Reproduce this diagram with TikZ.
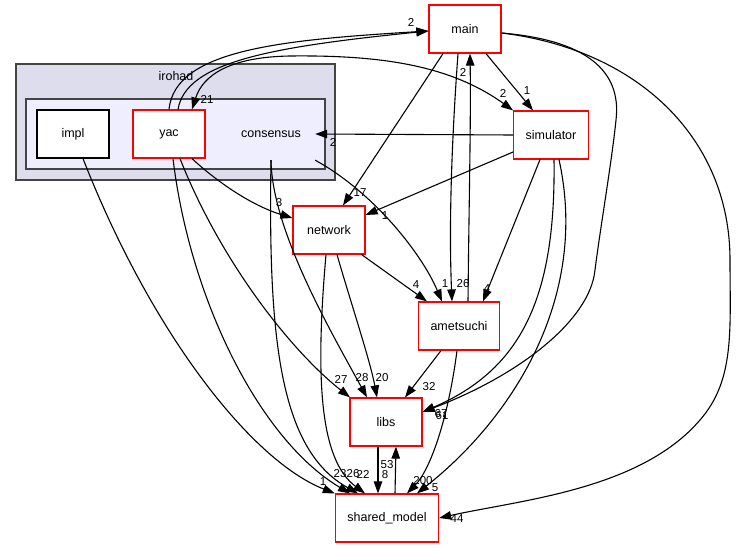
\documentclass[tikz,border=0pt]{standalone}
\usepackage{fontspec}
\setmainfont{Liberation Sans}
\usepackage{tikz}
\usetikzlibrary{arrows.meta}
\definecolor{rouge}{RGB}{255,0,0}
\definecolor{cadre}{RGB}{68,68,68}
\definecolor{fondext}{RGB}{221,221,238}
\definecolor{fondint}{RGB}{238,238,255}

\begin{document}
\begin{tikzpicture}[x=1pt,y=-1pt,
	dossier/.style={draw=rouge,fill=white,line width=1.2pt,minimum width=72pt,minimum height=48pt,inner xsep=12pt,font=\fontsize{12.5}{14}\selectfont},
	dep/.style={line width=1.1pt,-{Triangle[length=12pt,width=8.5pt]}},
	etiq/.style={inner sep=0pt,font=\fontsize{11.5}{13}\selectfont}]
	\useasboundingbox[fill=white] (0,0) rectangle (736,548);
	% irohad et consensus
	\draw[cadre,fill=fondext,line width=1.6pt] (16,64) rectangle (335,180);
	\node[font=\fontsize{12.5}{14}\selectfont] (irohad) at (176,76) {irohad};
	\draw[cadre,fill=fondint,line width=1.6pt] (26,99) rectangle (325,169);
	\node[minimum width=88pt,minimum height=52pt,font=\fontsize{12.5}{14}\selectfont] (consensus) at (271,134) {consensus};
	% dossiers
	\node[dossier,draw=black] (impl) at (73,134) {impl};
	\node[dossier] (yac) at (169,134) {yac};
	\node[dossier] (main) at (465,29) {main};
	\node[dossier] (simulator) at (551,135) {simulator};
	\node[dossier] (network) at (329,230) {network};
	\node[dossier] (ametsuchi) at (459,326) {ametsuchi};
	\node[dossier] (libs) at (386,422) {libs};
	\node[dossier] (shared) at (387,518) {shared\_model};
	% depuis yac
	\draw[dep] (yac.north) .. controls (175,50) and (280,40) .. ([yshift=-2pt]main.west);
	\draw[dep] ([xshift=9pt]yac.north) .. controls (186,62) and (270,47) .. ([yshift=-2pt]main.west);
	\draw[line width=1.1pt,{Triangle[length=12pt,width=8.5pt]}-{Triangle[length=12pt,width=8.5pt]}]
		([xshift=23pt]yac.north) .. controls (203,75) and (230,57) .. (290,56)
		.. controls (380,55) and (450,65) .. (simulator.north west);
	\draw[dep] ([xshift=23pt]yac.south) .. controls (215,180) and (250,205) .. ([yshift=12pt]network.west);
	\draw[dep] ([xshift=11pt]yac.south) .. controls (220,260) and (290,350) .. ([xshift=-36pt]libs.north);
	\draw[dep] ([xshift=4pt]yac.south) .. controls (190,300) and (260,440) .. ([xshift=-37pt]shared.north);
	\draw[dep] ([xshift=10pt]impl.south) .. controls (150,330) and (250,460) .. (shared.north west);
	% depuis consensus
	\draw[dep] (consensus.south east) .. controls (370,190) and (420,250) .. ([xshift=-17pt]ametsuchi.north);
	\draw[dep] (consensus.south) .. controls (272,230) and (330,330) .. ([xshift=-19pt]libs.north);
	\draw[dep] (consensus.south) .. controls (268,340) and (280,450) .. ([xshift=-29pt]shared.north);
	% depuis main
	\draw[dep] ([xshift=-22pt]main.south) -- ([xshift=14pt]network.north);
	\draw[dep] ([xshift=-7pt]main.south) .. controls (451,150) and (449,230) .. ([xshift=-7pt]ametsuchi.north);
	\draw[dep] ([xshift=21pt]main.south) -- ([xshift=-18pt]simulator.north);
	\draw[dep] ([yshift=-4pt]main.east) .. controls (585,40) and (622,70) .. (616,120)
		.. controls (612,160) and (600,230) .. (595,270)
		.. controls (590,320) and (520,375) .. ([yshift=10pt]libs.east);
	\draw[dep] ([yshift=-4pt]main.east) .. controls (640,50) and (730,140) .. (730,260)
		.. controls (730,330) and (735,380) .. (700,420)
		.. controls (640,490) and (520,500) .. (shared.east);
	% depuis simulator
	\draw[dep] (simulator.west) -- (consensus.east);
	\draw[dep] ([yshift=-17pt]simulator.west) -- ([yshift=15pt]network.east);
	\draw[dep] ([xshift=-11pt]simulator.south) -- ([xshift=24pt]ametsuchi.north);
	\draw[dep] ([xshift=3pt]simulator.south) .. controls (556,300) and (520,370) .. ([yshift=10pt]libs.east);
	\draw[dep] ([xshift=8pt]simulator.south) .. controls (590,300) and (510,420) .. ([xshift=30pt]shared.north);
	% depuis network
	\draw[dep] ([xshift=-4pt]network.south east) -- ([xshift=-32pt]ametsuchi.north);
	\draw[dep] ([xshift=8pt]network.south) .. controls (350,300) and (370,360) .. ([xshift=-9pt]libs.north);
	\draw[dep] ([xshift=-3pt]network.south) .. controls (315,380) and (320,460) .. ([xshift=-22pt]shared.north);
	% depuis ametsuchi, libs, shared_model
	\draw[dep] ([xshift=9pt]ametsuchi.north) .. controls (469,200) and (471,120) .. ([xshift=5pt]main.south);
	\draw[dep] ([xshift=-18pt]ametsuchi.south) -- ([xshift=19pt]libs.north);
	\draw[dep] ([xshift=-2pt]ametsuchi.south) .. controls (448,420) and (430,470) .. ([xshift=20pt]shared.north);
	\draw[dep] ([xshift=-8pt]libs.south) -- ([xshift=-9pt]shared.north);
	\draw[dep] ([xshift=8pt]shared.north) -- ([xshift=10pt]libs.south);
	% etiquettes
	\node[etiq] (e-yac-main) at (411,22) {2};
	\node[etiq] (e-yac-sim) at (207,99) {21};
	\node[etiq] (e-sim-yac) at (503,93) {2};
	\node[etiq] (e-yac-net) at (279,203) {3};
	\node[etiq] (e-yac-libs) at (341,379) {27};
	\node[etiq] (e-yac-shm) at (340,474) {23};
	\node[etiq] (e-impl-shm) at (323,482) {1};
	\node[etiq] (e-cons-ame) at (445,284) {1};
	\node[etiq] (e-cons-libs) at (362,378) {28};
	\node[etiq] (e-cons-shm) at (353,474) {26};
	\node[etiq] (e-main-net) at (360,193) {17};
	\node[etiq] (e-main-ame) at (463,284) {26};
	\node[etiq] (e-main-sim) at (527,91) {1};
	\node[etiq] (e-main-libs) at (441,414) {67};
	\node[etiq] (e-main-shm) at (457,519) {44};
	\node[etiq] (e-sim-cons) at (333,142) {2};
	\node[etiq] (e-sim-net) at (385,216) {1};
	\node[etiq] (e-sim-ame) at (487,289) {4};
	\node[etiq] (e-sim-libs) at (442,416) {61};
	\node[etiq] (e-sim-shm) at (435,488) {5};
	\node[etiq] (e-net-ame) at (416,285) {4};
	\node[etiq] (e-net-libs) at (382,378) {20};
	\node[etiq] (e-net-shm) at (363,474) {22};
	\node[etiq] (e-ame-main) at (463,72) {2};
	\node[etiq] (e-ame-libs) at (429,387) {32};
	\node[etiq] (e-ame-shm) at (423,481) {200};
	\node[etiq] (e-libs-shm) at (385,475) {8};
	\node[etiq] (e-shm-libs) at (387,465) {53};
\end{tikzpicture}
\end{document}
